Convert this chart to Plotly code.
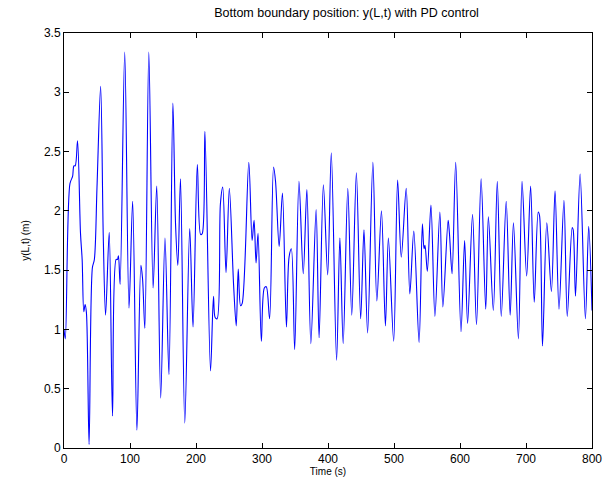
import plotly.graph_objects as go

# Time (s) of turning points
t = [0, 2, 9, 13, 15, 17, 20.5, 25, 27.5, 30, 32, 34, 38, 43, 46, 50, 55.5,
     59.5, 63, 68.5, 73.5, 79, 81, 82.5, 85, 92, 98.5, 104, 110.5, 116.5, 119,
     122.5, 128.5, 135, 140.5, 146.5, 153, 159, 165, 169, 172.5, 176.5, 183,
     190.5, 195.5, 202, 207, 209.5, 213.5, 222, 226.5, 229, 232, 237, 240.5,
     245.5, 250.5, 257, 261, 264, 267.5, 270, 280, 285, 288, 291, 294, 299,
     303.5, 306.5, 311.5, 317.5, 320.5, 326, 331, 337, 341, 344.5, 349.5, 356,
     362.5, 368, 374, 382, 386.5, 393, 399.5, 405, 413, 418, 423, 430, 436,
     443, 449.5, 454.5, 460, 468, 474, 481, 487, 491.5, 499.5, 505.5, 511,
     518.5, 524, 530, 538, 543, 545.5, 547, 550.5, 556, 562, 569.5, 574, 582,
     584, 588, 593.5, 601.5, 607, 611.5, 619, 625, 632, 639, 643, 650.5,
     656.5, 662.5, 670, 676, 681, 688.5, 694, 701, 707, 712.5, 718.5, 720.5,
     725, 731.5, 738.5, 744, 750, 757.5, 762.5, 770, 771.5, 775, 782, 790,
     795, 800]

# y(L,t) (m) at those times
y = [1.00, 0.92, 2.23, 2.29, 2.38, 2.38, 2.59, 1.81, 1.59, 1.15, 1.21, 1.14,
     0.03, 1.52, 1.59, 2.20, 3.05, 1.78, 1.12, 1.82, 0.27, 1.59, 1.59, 1.62,
     1.38, 3.34, 1.18, 2.08, 0.15, 1.54, 1.43, 1.01, 3.34, 1.35, 2.21, 0.42,
     1.77, 0.62, 2.91, 1.89, 1.54, 2.27, 0.21, 1.85, 1.02, 2.39, 1.80, 1.81,
     2.67, 0.65, 1.28, 1.10, 1.09, 2.06, 2.20, 1.48, 2.19, 1.37, 1.03, 1.51,
     1.20, 1.22, 2.41, 1.75, 1.92, 1.56, 1.81, 0.90, 1.35, 1.36, 1.09, 2.37,
     2.25, 1.70, 2.15, 1.02, 1.61, 1.68, 0.83, 2.25, 1.47, 2.18, 0.88, 2.01,
     0.93, 2.22, 1.46, 2.49, 0.74, 1.77, 0.88, 2.19, 1.12, 2.32, 1.09, 1.84,
     0.97, 2.41, 1.24, 2.00, 1.03, 1.77, 0.90, 2.26, 1.61, 2.19, 1.30, 1.83,
     0.89, 1.89, 1.68, 1.71, 1.49, 2.05, 1.11, 1.99, 1.19, 1.92, 1.81, 1.47,
     2.41, 0.98, 1.75, 1.05, 1.97, 1.04, 2.27, 1.17, 1.95, 1.16, 2.25, 1.11,
     2.08, 1.12, 1.90, 0.92, 2.25, 1.45, 2.21, 1.23, 1.99, 1.96, 0.86, 1.90,
     1.32, 2.17, 1.17, 2.09, 1.11, 1.86, 1.84, 1.28, 2.31, 1.09, 1.87, 1.16]

x_ticks = [0, 100, 200, 300, 400, 500, 600, 700, 800]
y_ticks = [0, 0.5, 1, 1.5, 2, 2.5, 3, 3.5]
y_tick_text = ["0", "0.5", "1", "1.5", "2", "2.5", "3", "3.5"]

FONT = "Liberation Sans, Arial, Helvetica, sans-serif"

fig = go.Figure()
fig.add_trace(go.Scatter(
    x=t, y=y, mode="lines",
    line=dict(color="#0000ff", width=1.1, shape="spline", smoothing=0.9),
    showlegend=False, hoverinfo="skip"))

axis_common = dict(
    showline=True, linecolor="black", linewidth=1, mirror="ticks",
    ticks="inside", ticklen=5, tickcolor="black", tickwidth=1,
    showgrid=False, zeroline=False,
    tickfont=dict(family=FONT, size=12, color="black"))

fig.update_layout(
    width=613, height=491,
    margin=dict(l=64, r=21, t=33, b=43),
    paper_bgcolor="white", plot_bgcolor="white",
    font=dict(family=FONT, color="black"),
    title=dict(text="Bottom boundary position: y(L,t) with PD control",
               x=(64 + 592) / 2 / 613, xanchor="center", xref="paper",
               y=1 - 13 / 491, yanchor="middle",
               font=dict(family=FONT, size=12.5, color="black")),
    xaxis=dict(range=[0, 800], tickvals=x_ticks,
               title=dict(text="Time (s)", standoff=2,
                          font=dict(family=FONT, size=10, color="black")),
               **axis_common),
    yaxis=dict(range=[0, 3.5], tickvals=y_ticks, ticktext=y_tick_text,
               title=dict(text="y(L,t) (m)", standoff=12,
                          font=dict(family=FONT, size=10, color="black")),
               **axis_common),
)

fig.write_html("out.html")
